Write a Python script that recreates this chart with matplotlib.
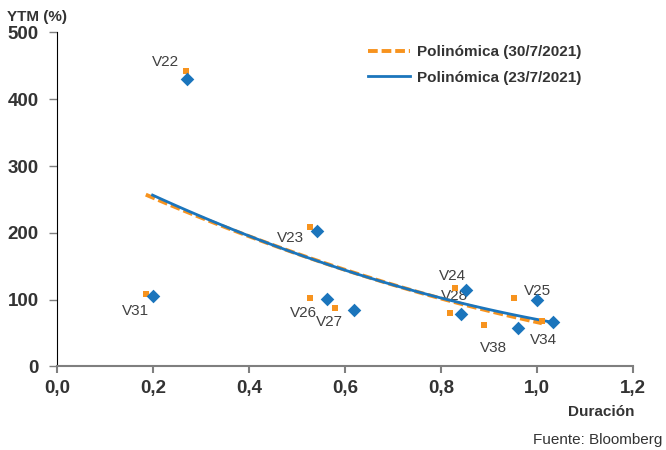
import numpy as np
import matplotlib.pyplot as plt

plt.rcParams['font.family'] = ['Liberation Sans', 'DejaVu Sans']

# bonos
labels = ["V22", "V23", "V31", "V26", "V27", "V24", "V28", "V38", "V25", "V34"]

# 30/7/2021
dur_30 = [0.268, 0.527, 0.185, 0.527, 0.579, 0.829, 0.819, 0.890, 0.952, 1.010]
ytm_30 = [442, 209, 109, 102, 88, 118, 80, 62, 103, 68]

# 23/7/2021
dur_23 = [0.270, 0.541, 0.199, 0.562, 0.619, 0.852, 0.842, 0.961, 1.000, 1.034]
ytm_23 = [431, 203, 106, 101, 85, 115, 78, 57, 100, 66]

# label offsets (points) from the blue marker
offsets = [(-15, 12), (-19, -5), (-12, -11), (-17, -10), (-18, -9),
           (-10, 10), (-5, 13), (-18, -14), (0, 6), (-7, -13)]

orange = '#F7931E'
blue = '#1B75BC'
grey_txt = '#404040'

fig = plt.figure(figsize=(6.66, 4.5), dpi=100)
ax = fig.add_axes([0.0856, 0.1856, 0.865, 0.7424])

def trend(x, y):
    c = np.polyfit(x, y, 2)
    xs = np.linspace(min(x), max(x), 100)
    return xs, np.polyval(c, xs)

xs, ys = trend(dur_30, ytm_30)
ax.plot(xs, ys, color=orange, lw=2.8, ls=(0, (2.5, 1.0)), zorder=3,
        label='Polinómica (30/7/2021)')
xs, ys = trend(dur_23, ytm_23)
ax.plot(xs, ys, color=blue, lw=2, zorder=4, label='Polinómica (23/7/2021)')

ax.scatter(dur_30, ytm_30, marker='s', s=24, color=orange, zorder=5, lw=0)
ax.scatter(dur_23, ytm_23, marker='D', s=48, color=blue, zorder=6, lw=0)

for lab, x, y, off in zip(labels, dur_23, ytm_23, offsets):
    ax.annotate(lab, (x, y), xytext=off, textcoords='offset points',
                ha='center', va='center', fontsize=11, color=grey_txt)

ax.set_xlim(0, 1.2)
ax.set_ylim(0, 500)
ax.set_xticks(np.arange(0, 1.21, 0.2))
ax.set_xticklabels(['0,0', '0,2', '0,4', '0,6', '0,8', '1,0', '1,2'])
ax.set_yticks([0, 100, 200, 300, 400, 500])

for s in ['top', 'right']:
    ax.spines[s].set_visible(False)
ax.spines['left'].set_color('black')
ax.spines['bottom'].set_color('#7f7f7f')
ax.spines['bottom'].set_linewidth(1.5)
ax.tick_params(axis='x', direction='out', length=5, width=1.5, color='#7f7f7f',
               labelsize=13.5, labelcolor='#333333', pad=5)
ax.tick_params(axis='y', direction='out', length=6, width=1, color='#7f7f7f',
               labelsize=13.5, labelcolor='#333333', pad=7)
for t in ax.get_xticklabels() + ax.get_yticklabels():
    t.set_fontweight('bold')

leg = ax.legend(loc='upper left', bbox_to_anchor=(0.54, 0.962), frameon=False,
                fontsize=11, handlelength=2.75, handletextpad=0.45,
                labelspacing=0.75, borderpad=0, borderaxespad=0)
for t in leg.get_texts():
    t.set_fontweight('bold')
    t.set_color('#333333')

fig.text(0.011, 0.962, 'YTM (%)', fontsize=11, fontweight='bold',
         color='#333333', va='center')
fig.text(0.903, 0.084, 'Duración', fontsize=11, fontweight='bold',
         color='#333333', ha='center', va='center')
fig.text(0.995, 0.022, 'Fuente: Bloomberg', fontsize=11, color='#333333',
         ha='right', va='center')

fig.savefig('out.png', dpi=100)
